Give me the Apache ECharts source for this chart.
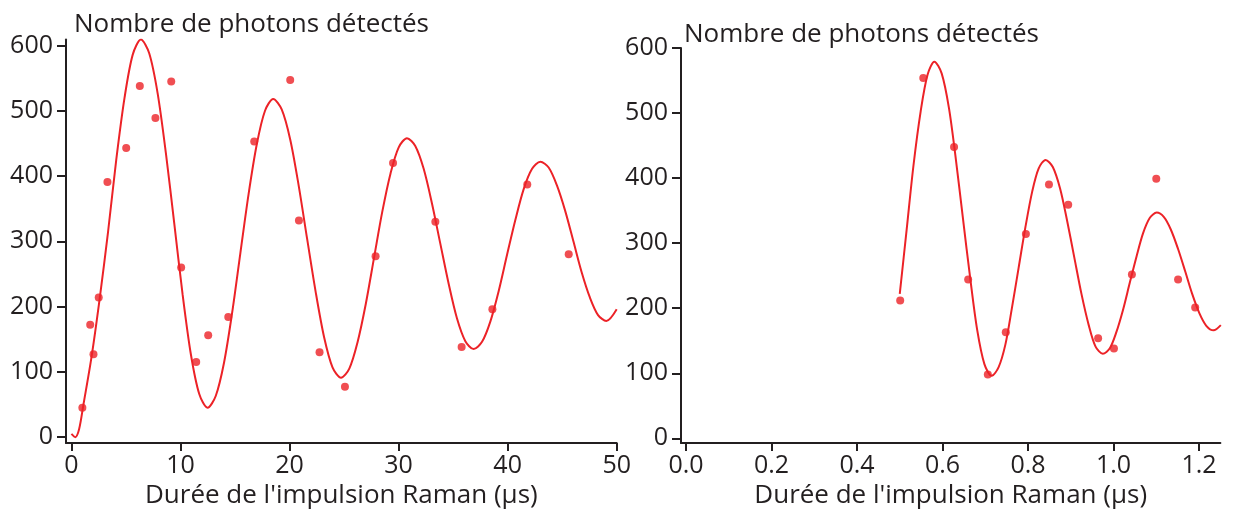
<!DOCTYPE html>
<html lang="fr">
<head>
    <meta charset="UTF-8">
    <title></title>
    <style>
        html, body { margin: 0; padding: 0; background: #fff; }
        #main { width: 1236px; height: 514px; }
    </style>
</head>
<body>
<div id="main"></div>
<script src="https://cdn.jsdelivr.net/npm/echarts@6/dist/echarts.min.js"></script>
<script type="text/javascript">
    // points mesures, courbe de gauche (us)
    var leftX = [1.0, 1.72, 2.02, 2.5, 3.3, 5.02, 6.27, 7.7, 9.15, 10.06, 11.44, 12.54, 14.38, 16.76, 20.06, 20.86,
        22.75, 25.08, 27.89, 29.49, 33.37, 35.78, 38.6, 41.8, 45.6];
    var leftY = [45, 172, 127, 214, 391, 443, 538, 489, 545, 260, 115, 156, 184, 453, 547, 332,
        130, 77, 277, 420, 330, 138, 196, 387, 280];
    // ajustement
    var leftFitX = [0, 0.35, 0.7, 1.1, 1.86, 2.61, 3.36, 4.11, 4.87, 5.62, 6.37,
        7.13, 7.90, 8.66, 9.43, 10.19, 10.95, 11.72, 12.48,
        13.23, 13.99, 14.74, 15.49, 16.24, 17.00, 17.75, 18.5,
        19.28, 20.06, 20.83, 21.61, 22.39, 23.17, 23.94, 24.72,
        25.48, 26.23, 26.99, 27.75, 28.50, 29.26, 30.01, 30.77,
        31.53, 32.30, 33.06, 33.83, 34.59, 35.35, 36.12, 36.88,
        37.65, 38.41, 39.18, 39.94, 40.71, 41.47, 42.24, 43.0,
        43.76, 44.51, 45.27, 46.03, 46.78, 47.54, 48.29, 49.05, 50.0];
    var leftFitY = [5, 0, 12, 50, 125, 215, 315, 425, 520, 586, 609,
        588, 527, 435, 327, 219, 127, 66, 45,
        63, 114, 191, 282, 372, 449, 500, 518,
        502, 456, 386, 304, 223, 153, 107, 91,
        105, 145, 204, 275, 345, 404, 444, 458,
        446, 411, 358, 296, 235, 182, 147, 135,
        146, 177, 224, 279, 333, 380, 411, 422,
        413, 386, 347, 300, 253, 214, 187, 178, 196];

    // courbe de droite
    var rightX = [0.501, 0.555, 0.627, 0.660, 0.706, 0.748, 0.795, 0.849, 0.894, 0.964, 1.001, 1.043, 1.100,
        1.151, 1.191, 1.251];
    var rightY = [212, 554, 448, 244, 98, 163, 314, 390, 359, 154, 138, 252, 399, 244, 201, 182];
    var rightFitX = [0.500, 0.516, 0.532, 0.549, 0.565, 0.581,
        0.598, 0.615, 0.631, 0.648, 0.665, 0.681, 0.698, 0.715,
        0.731, 0.747, 0.762, 0.778, 0.794, 0.810, 0.825, 0.841,
        0.858, 0.875, 0.891, 0.908, 0.925, 0.942, 0.958, 0.975,
        0.991, 1.006, 1.022, 1.038, 1.054, 1.069, 1.085, 1.101,
        1.118, 1.134, 1.151, 1.168, 1.184, 1.201, 1.217, 1.234, 1.251];
    var rightFitY = [222, 320, 419, 503, 559, 579,
        561, 508, 430, 337, 245, 167, 114, 96,
        109, 144, 199, 262, 325, 380, 415, 428,
        417, 384, 336, 279, 222, 174, 141, 130,
        138, 162, 197, 239, 280, 315, 339, 347,
        340, 321, 291, 256, 222, 192, 173, 166, 174];

    var yTicks = [0, 100, 200, 300, 400, 500, 600];
    var leftXTicks = [0, 10, 20, 30, 40, 50];
    var rightXTicks = [0, 0.2, 0.4, 0.6, 0.8, 1.0, 1.2];

    var titleText = 'Nombre de photons détectés';
    var xName = "Durée de l'impulsion Raman (µs)";

    var ink = '#231f20';
    var red = '#ec2227';
    var font = 'Open Sans';

    function pairs(xs, ys) {
        var out = [];
        for (var i = 0; i < xs.length; i++) out.push([xs[i], ys[i]]);
        return out;
    }

    function xAxisOf(idx, min, max, ticks, digits) {
        return {
            type: 'value', gridIndex: idx, min: min, max: max,
            name: xName, nameLocation: 'middle', nameGap: 40,
            nameTextStyle: {color: ink, fontSize: 26, fontFamily: font},
            axisLine: {onZero: false, lineStyle: {color: ink, width: 2}},
            axisTick: {show: true, length: 8, customValues: ticks, lineStyle: {color: ink, width: 2}},
            axisLabel: {
                customValues: ticks, margin: 10, color: ink, fontSize: 25, fontFamily: font,
                formatter: function (v) { return v.toFixed(digits); }
            },
            splitLine: {show: false}
        };
    }

    function yAxisOf(idx, min, max) {
        return {
            type: 'value', gridIndex: idx, min: min, max: max,
            axisLine: {onZero: false, lineStyle: {color: ink, width: 2}},
            axisTick: {show: true, length: 9, customValues: yTicks, lineStyle: {color: ink, width: 2}},
            axisLabel: {customValues: yTicks, margin: 13, color: ink, fontSize: 25, fontFamily: font},
            splitLine: {show: false}
        };
    }

    var myChart = echarts.init(document.getElementById('main'));

    var option = {
        animation: false,
        backgroundColor: '#fff',
        title: [
            {text: titleText, left: 74, top: 12, padding: 0, textStyle: {color: ink, fontSize: 26, fontWeight: 'normal', fontFamily: font}},
            {text: titleText, left: 684, top: 22, padding: 0, textStyle: {color: ink, fontSize: 26, fontWeight: 'normal', fontFamily: font}}
        ],
        grid: [
            {left: 66, top: 39.6, width: 550.7, height: 406.3},
            {left: 681, top: 48, width: 539.4, height: 397.7}
        ],
        xAxis: [
            xAxisOf(0, -0.5, 50, leftXTicks, 0),
            xAxisOf(1, -0.0117, 1.25, rightXTicks, 1)
        ],
        yAxis: [
            yAxisOf(0, -9, 609),
            yAxisOf(1, -7.2, 600)
        ],
        series: [{
            type: 'line', xAxisIndex: 0, yAxisIndex: 0,
            data: pairs(leftFitX, leftFitY),
            smooth: 0.3, symbol: 'none',
            lineStyle: {color: red, width: 2}
        }, {
            type: 'scatter', xAxisIndex: 0, yAxisIndex: 0,
            data: pairs(leftX, leftY),
            symbolSize: 8, itemStyle: {color: red}
        }, {
            type: 'line', xAxisIndex: 1, yAxisIndex: 1,
            data: pairs(rightFitX, rightFitY),
            smooth: 0.3, symbol: 'none',
            lineStyle: {color: red, width: 2}
        }, {
            type: 'scatter', xAxisIndex: 1, yAxisIndex: 1,
            data: pairs(rightX, rightY),
            symbolSize: 8, itemStyle: {color: red}
        }]
    };

    myChart.setOption(option);
</script>
</body>
</html>
